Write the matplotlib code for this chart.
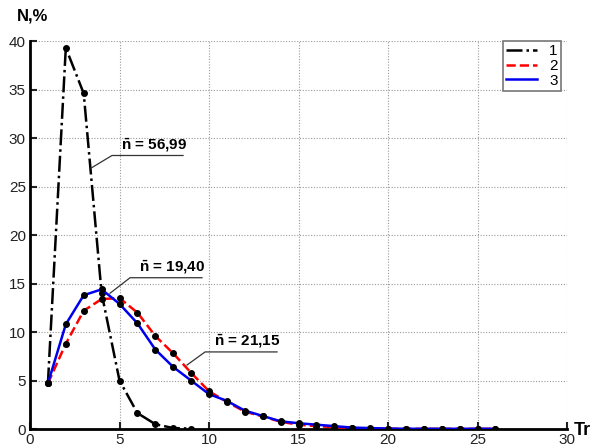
import numpy as np
import matplotlib
matplotlib.use("Agg")
import matplotlib.pyplot as plt

plt.rcParams['font.family'] = ['Liberation Sans', 'DejaVu Sans']
plt.rcParams['mathtext.fontset'] = 'custom'
plt.rcParams['mathtext.bf'] = 'Liberation Sans:bold'
plt.rcParams['mathtext.rm'] = 'Liberation Sans'

# data
x1 = [1, 2, 3, 4, 5, 6, 7, 8, 9]
n1 = [4.7, 39.3, 34.6, 14.0, 5.0, 1.65, 0.5, 0.1, 0.05]
x2 = list(range(1, 27))
n2 = [4.7, 8.8, 12.2, 13.4, 13.5, 12.0, 9.6, 7.8, 5.8, 3.9, 2.8, 1.8, 1.3,
      0.75, 0.45, 0.3, 0.2, 0.1, 0.05, 0.03, 0.02, 0.02, 0.02, 0.02, 0.02, 0.02]
x3 = list(range(1, 27))
n3 = [4.7, 10.8, 13.8, 14.4, 12.9, 10.9, 8.2, 6.4, 5.0, 3.6, 2.9, 1.9, 1.35,
      0.8, 0.6, 0.45, 0.3, 0.15, 0.1, 0.05, 0.03, 0.03, 0.03, 0.03, 0.03, 0.03]
labels = ['1', '2', '3']

fig = plt.figure(figsize=(5.93, 4.46), dpi=100)
ax = fig.add_axes([0.0506, 0.038, 0.9056, 0.870])

ax.plot(x1, n1, color='black', ls='-.', lw=1.8, marker='o', ms=4,
        mfc='black', mec='black', label=labels[0], zorder=3)
ax.plot(x2, n2, color='red', ls='--', lw=1.8, marker='o', ms=4,
        mfc='black', mec='black', label=labels[1], zorder=4)
ax.plot(x3, n3, color='#0000ee', ls='-', lw=1.8, marker='o', ms=4,
        mfc='black', mec='black', label=labels[2], zorder=5)

ax.set_xlim(0, 30)
ax.set_ylim(0, 40)
ax.set_xticks(np.arange(0, 31, 5))
ax.set_yticks(np.arange(0, 41, 5))
ax.grid(True, ls=(0, (1, 1.5)), color='#999999', lw=0.8)
ax.set_axisbelow(True)

for s in ['top', 'right']:
    ax.spines[s].set_visible(False)
for s in ['left', 'bottom']:
    ax.spines[s].set_linewidth(2)
ax.tick_params(direction='in', length=5, width=1.5, labelsize=11, colors='#222222', pad=3)

# leader lines with mean values
notes = [
    (r'$\mathbf{\bar{n}}$ = 56,99', (3.41, 26.9), (4.58, 28.2), 8.55),
    (r'$\mathbf{\bar{n}}$ = 19,40', (4.47, 14.0), (5.59, 15.6), 9.61),
    (r'$\mathbf{\bar{n}}$ = 21,15', (8.77, 6.6), (9.78, 7.95), 13.8),
]
for txt, p0, p1, xe in notes:
    ax.plot([p0[0], p1[0], xe], [p0[1], p1[1], p1[1]], color='#333333', lw=0.9, zorder=6)
    ax.text((p1[0] + xe) / 2 + 0.35, p1[1] + 0.2, txt, ha='center', va='bottom',
            fontsize=11, fontweight='bold', zorder=6)

leg = ax.legend(loc='upper right', bbox_to_anchor=(0.988, 1.0), borderaxespad=0,
                fontsize=11, handlelength=2.0, handletextpad=0.8, borderpad=0.2,
                labelspacing=0.05, fancybox=False, framealpha=1)
leg.get_frame().set_edgecolor('#777777')
leg.get_frame().set_linewidth(1.2)
for h in leg.legend_handles:
    h.set_marker('')

fig.text(0.028, 0.965, 'N,%', fontsize=12, fontweight='bold', va='center')
fig.text(0.968, 0.035, 'Tr', fontsize=13, fontweight='bold', va='center')

fig.savefig('out.png', dpi=100)
